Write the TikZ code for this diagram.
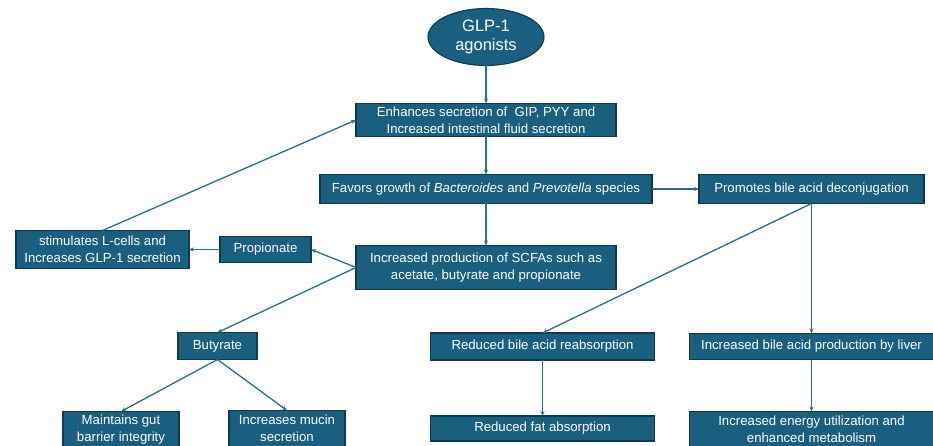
\documentclass[tikz,border=0pt]{standalone}
\usepackage{fontspec}
\setmainfont{Liberation Sans}
\usepackage{xcolor}
\usepackage{tikz}
\usetikzlibrary{arrows.meta,positioning,shapes.geometric}
\definecolor{BoxFill}{HTML}{1A5F80}
\definecolor{BoxBorder}{HTML}{0E3B52}
\definecolor{FlowArrow}{HTML}{2A6E8F}

\begin{document}
\begin{tikzpicture}[
  nbox/.style={draw=BoxBorder,fill=BoxFill,line width=1.1pt,
    text=white,align=center,inner sep=2pt,outer sep=0pt,
    font=\fontsize{13.2}{17}\selectfont},
  nagon/.style={ellipse,draw=BoxBorder,fill=BoxFill,line width=1.1pt,
    text=white,align=center,inner sep=0pt,outer sep=0pt,
    minimum width=116pt,minimum height=57pt,
    font=\fontsize{16.5}{19.5}\selectfont},
  arr/.style={-{Stealth[length=5pt,width=4pt]},draw=FlowArrow,
    line width=1.3pt}
]
\useasboundingbox (0pt,0pt) rectangle (933pt,-446pt);
\node[nagon] (glp) at (486pt,-37pt) {GLP-1\\agonists};
\node[nbox,minimum width=260pt,minimum height=33pt,below=38pt of glp]
  (secr) {Enhances secretion of \ GIP, PYY and\\Increased intestinal fluid secretion};
\node[nbox,minimum width=332pt,minimum height=29pt,below=38pt of secr]
  (grow) {Favors growth of \textit{Bacteroides} and \textit{Prevotella} species};
\node[nbox,minimum width=225pt,minimum height=29pt,right=47pt of grow]
  (deconj) {Promotes bile acid deconjugation};
\node[nbox,minimum width=260pt,minimum height=44pt,below=42pt of grow]
  (scfa) {Increased production of SCFAs such as\\acetate, butyrate and propionate};
\node[nbox,minimum width=91pt,minimum height=26pt,left=45pt of scfa,
  yshift=18pt] (prop) {Propionate};
\node[nbox,minimum width=173pt,minimum height=38pt,left=31pt of prop]
  (lcell) {stimulates L-cells and\\Increases GLP-1 secretion};
\node[nbox,minimum width=79pt,minimum height=27pt,below=70pt of prop,
  xshift=-48pt] (buty) {Butyrate};
\node[nbox,minimum width=116pt,minimum height=36pt,below=52pt of buty,
  xshift=-96.5pt] (gut) {Maintains gut\\barrier integrity};
\node[nbox,minimum width=116pt,minimum height=36pt,below=51pt of buty,
  xshift=69.5pt] (mucin) {Increases mucin\\secretion};
% bile acid branch
\node[nbox,minimum width=244pt,minimum height=26pt,below=130pt of deconj]
  (liver) {Increased bile acid production by liver};
\node[nbox,minimum width=224pt,minimum height=27pt,left=35pt of liver]
  (reab) {Reduced bile acid reabsorption};
\node[nbox,minimum width=224pt,minimum height=25pt,below=56pt of reab]
  (fat) {Reduced fat absorption};
\node[nbox,minimum width=244pt,minimum height=36pt,below=52pt of liver]
  (energy) {Increased energy utilization and\\enhanced metabolism};
\draw[arr] (glp.south)--(secr.north);
\draw[arr] (secr.south)--(grow.north);
\draw[arr] (grow.east)--(deconj.west);
\draw[arr] (grow.south)--(scfa.north);
\draw[arr] (scfa.west)--(prop.east);
\draw[arr] (scfa.west)--(buty.north);
\draw[arr] (prop.west)--(lcell.east);
\draw[arr] (lcell.north)--(secr.west);
\draw[arr] (buty.south)--(gut.north);
\draw[arr] (buty.south)--(mucin.north);
\draw[arr] (deconj.south)--(reab.north);
\draw[arr] (deconj.south)--(liver.north);
\draw[arr] (reab.south)--(fat.north);
\draw[arr] (liver.south)--(energy.north);
\end{tikzpicture}
\end{document}
